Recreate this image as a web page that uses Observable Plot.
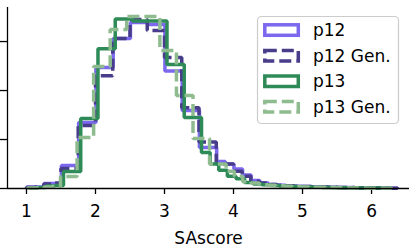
<!DOCTYPE html>
<html>
<head>
<meta charset="utf-8">
<script src="https://cdn.jsdelivr.net/npm/d3@7"></script>
<script src="https://cdn.jsdelivr.net/npm/@observablehq/plot@0.6"></script>
<style>
  html, body { margin: 0; padding: 0; background: white; }
  #chart { width: 416px; height: 246px; }
</style>
</head>
<body>
<div id="chart"></div>
<script>
// ---- data ----
const xDomain = [0.725, 6.55];
const yDomain = [0, 0.739];
const xTicks = [1, 2, 3, 4, 5, 6];
const xTickLabels = ["1", "2", "3", "4", "5", "6"];
const yTicks = [0, 0.2, 0.4, 0.6];
const seriesNames = ["p12", "p12 Gen.", "p13", "p13 Gen."];
const seriesColors = ["#7B68EE", "#483D8B", "#2E8B57", "#8FBC8F"];
const seriesDashed = [false, true, false, true];
const binStart = [1.006, 1.0, 1.036, 1.013];
const binWidth = [0.125, 0.125, 0.125, 0.12];

const p12 = [0.006, 0.006, 0.02, 0.02, 0.094, 0.094, 0.269, 0.269, 0.494, 0.494,
  0.612, 0.612, 0.678, 0.678, 0.67, 0.67, 0.48, 0.48, 0.318, 0.318,
  0.167, 0.167, 0.11, 0.10, 0.08, 0.055, 0.033, 0.022, 0.016, 0.013,
  0.011, 0.009, 0.008, 0.007, 0.006, 0.005, 0.004, 0.004, 0.003, 0.003,
  0.002, 0.002, 0.001];
const p12Gen = [0.004, 0.006, 0.018, 0.022, 0.082, 0.082, 0.257, 0.257, 0.46, 0.46,
  0.612, 0.612, 0.69, 0.69, 0.645, 0.645, 0.535, 0.535, 0.33, 0.33,
  0.19, 0.19, 0.10, 0.10, 0.07, 0.05, 0.03, 0.022, 0.016, 0.013,
  0.011, 0.009, 0.008, 0.007, 0.006, 0.005, 0.004, 0.004, 0.003, 0.003,
  0.002, 0.002, 0.001];
const p13 = [0.002, 0.004, 0.010, 0.012, 0.069, 0.069, 0.286, 0.286, 0.571, 0.571,
  0.692, 0.692, 0.684, 0.684, 0.684, 0.684, 0.506, 0.506, 0.290, 0.290,
  0.147, 0.10, 0.075, 0.05, 0.04, 0.024, 0.018, 0.015, 0.012, 0.010,
  0.008, 0.007, 0.006, 0.005, 0.004, 0.004, 0.003, 0.003, 0.002, 0.002,
  0.002, 0.001];
const p13Gen = [0.002, 0.003, 0.006, 0.008, 0.049, 0.049, 0.208, 0.208, 0.498, 0.498,
  0.649, 0.649, 0.702, 0.702, 0.702, 0.702, 0.563, 0.563, 0.38, 0.38,
  0.204, 0.204, 0.10, 0.10, 0.07, 0.05, 0.028, 0.022, 0.015, 0.013,
  0.011, 0.009, 0.008, 0.006, 0.005, 0.005, 0.004, 0.003, 0.003, 0.002,
  0.002, 0.001, 0.001, 0.001];
const seriesValues = [p12, p12Gen, p13, p13Gen];

// ---- build step outlines (matplotlib histtype="step") ----
function stepPoints(start, width, vals) {
  const pts = [{x: start, y: 0}];
  vals.forEach((v, i) => pts.push({x: start + i * width, y: v}));
  const end = start + vals.length * width;
  pts.push({x: end, y: vals[vals.length - 1]});
  pts.push({x: end, y: 0});
  return pts;
}

const FONT = "DejaVu Sans";
const LW = 3.5;
const lineMarks = seriesValues.map((vals, i) =>
  Plot.line(stepPoints(binStart[i], binWidth[i], vals), {
    x: "x", y: "y", curve: "step-after",
    stroke: seriesColors[i], strokeWidth: LW,
    strokeLinejoin: "miter", strokeLinecap: "butt",
    strokeDasharray: seriesDashed[i] ? "12,5" : null
  })
);

const chart = Plot.plot({
  width: 416, height: 246,
  marginLeft: 7, marginRight: 7, marginTop: 7, marginBottom: 58,
  style: {fontFamily: FONT, fontSize: "17px", background: "white", color: "black"},
  x: {domain: xDomain},
  y: {domain: yDomain},
  marks: [
    Plot.axisY({ticks: yTicks, tickSize: 7, tickFormat: () => "", strokeWidth: 1.3, label: null}),
    Plot.axisX({ticks: xTicks, tickSize: 6, tickPadding: 10, strokeWidth: 1.3, fontSize: 17,
      tickFormat: (d) => xTickLabels[xTicks.indexOf(d)], label: null}),
    ...lineMarks,
    Plot.ruleY([yDomain[0]], {stroke: "black", strokeWidth: 1.3}),
    Plot.ruleX([xDomain[0]], {stroke: "black", strokeWidth: 1.3}),
    Plot.text(["SAscore"], {frameAnchor: "bottom", dy: 55, lineAnchor: "bottom",
      fontSize: 17, fill: "black"})
  ]
});
document.getElementById("chart").appendChild(chart);

// ---- legend ----
const svg = d3.select(chart);
const lg = svg.append("g").attr("font-family", FONT).attr("font-size", 17)
  .attr("text-anchor", "start");
lg.append("rect").attr("x", 257.5).attr("y", 16.5).attr("width", 141).attr("height", 107)
  .attr("rx", 4).attr("fill", "white").attr("fill-opacity", 0.8)
  .attr("stroke", "#cccccc").attr("stroke-width", 1.2);
seriesNames.forEach((name, i) => {
  const cy = 30 + 25.6 * i;
  lg.append("rect").attr("x", 264.8).attr("y", cy - 5.2).attr("width", 33.5).attr("height", 10.5)
    .attr("fill", "none").attr("stroke", seriesColors[i]).attr("stroke-width", LW)
    .attr("stroke-linejoin", "miter")
    .attr("stroke-dasharray", seriesDashed[i] ? "12,5" : null);
  lg.append("text").attr("x", 313).attr("y", cy + 6).attr("text-anchor", "start")
    .attr("fill", "black").text(name);
});
</script>
</body>
</html>
